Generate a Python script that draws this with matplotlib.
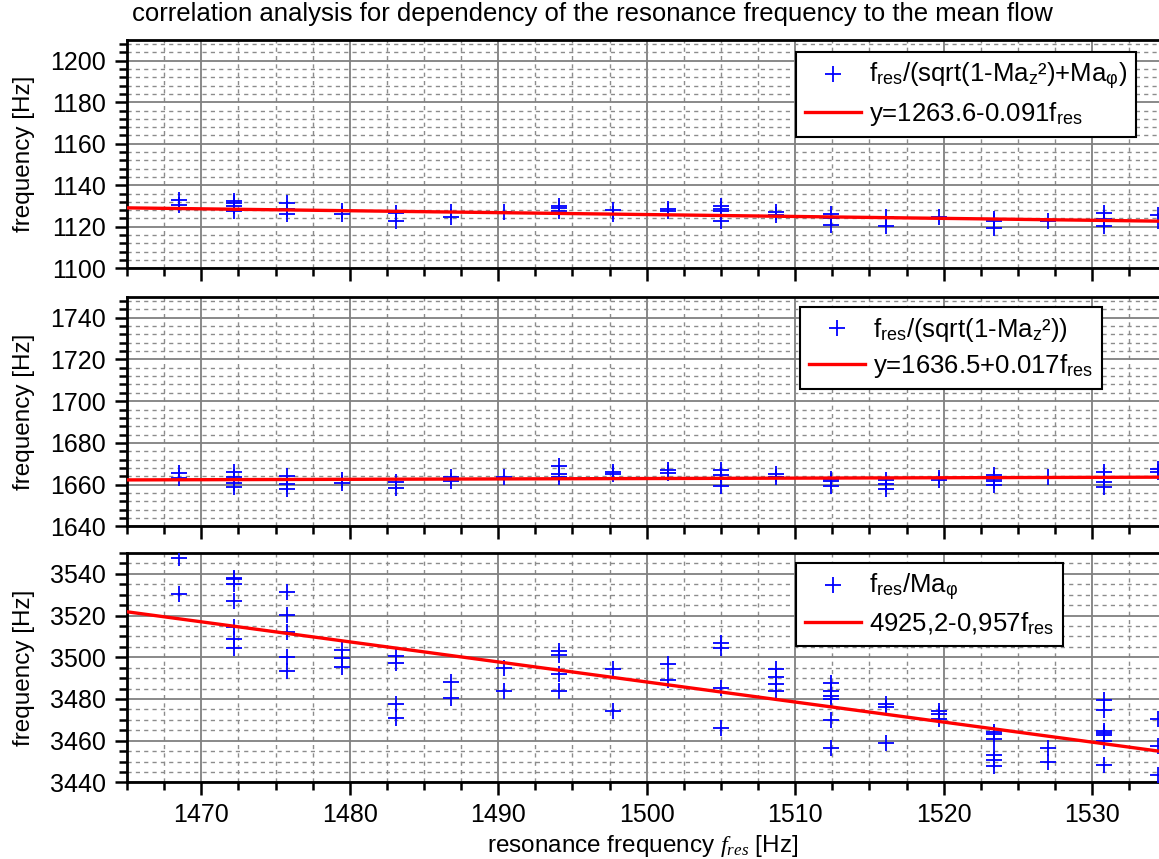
import matplotlib
matplotlib.use('Agg')
import matplotlib.pyplot as plt
from matplotlib.ticker import MultipleLocator

plt.rcParams['font.family'] = ['Liberation Sans', 'DejaVu Sans']
plt.rcParams['mathtext.fontset'] = 'custom'
plt.rcParams['mathtext.rm'] = 'Liberation Sans'
plt.rcParams['mathtext.it'] = 'Liberation Serif:italic'
plt.rcParams['mathtext.bf'] = 'Liberation Sans:bold'

# resonance frequency columns (Hz)
f_res = [1468.5, 1472.2, 1475.8, 1479.5, 1483.1, 1486.8, 1490.4, 1494.1, 1497.7,
         1501.4, 1505.0, 1508.7, 1512.4, 1516.1, 1519.7, 1523.4, 1527.0, 1530.8, 1534.4]

# f_res/(sqrt(1-Ma_z^2)+Ma_phi)
top_vals = [
    [1133.1, 1130.6],
    [1132.6, 1131.4, 1129.8, 1127.4],
    [1131.5, 1128.6, 1126.1],
    [1127.4, 1126.2],
    [1126.6, 1122.7],
    [1127.0, 1124.6],
    [1127.0],
    [1130.2, 1129.0, 1127.8],
    [1128.2, 1126.2],
    [1128.6, 1127.4],
    [1129.8, 1128.5, 1127.6, 1122.6],
    [1127.0, 1125.8],
    [1126.2, 1124.3, 1121.0],
    [1124.6, 1120.6],
    [1124.6],
    [1123.8, 1122.6, 1119.4],
    [1123.0],
    [1126.6, 1123.8, 1122.6, 1120.6],
    [1125.8, 1123.0],
]

# f_res/(sqrt(1-Ma_z^2))
mid_vals = [
    [1665.6, 1663.3],
    [1666.1, 1663.7, 1660.8, 1658.9],
    [1664.1, 1660.5, 1657.8],
    [1662.1, 1660.8],
    [1661.3, 1658.6],
    [1663.7, 1661.8],
    [1663.7],
    [1668.8, 1665.3, 1663.7],
    [1666.1, 1665.0],
    [1666.9, 1665.6],
    [1666.9, 1664.8, 1659.2],
    [1665.3, 1663.7],
    [1662.9, 1661.6, 1659.2],
    [1662.1, 1660.5, 1657.8],
    [1663.3, 1662.3],
    [1664.5, 1662.9, 1661.6, 1659.7],
    [1663.7],
    [1666.1, 1663.7, 1661.3, 1658.9],
    [1667.7, 1666.1],
]

# f_res/Ma_phi
bot_vals = [
    [3547.8, 3530.2],
    [3538.2, 3537.4, 3535.0, 3527.0, 3514.6, 3508.6, 3504.3],
    [3531.5, 3520.3, 3512.2, 3500.2, 3493.4],
    [3503.4, 3499.8, 3495.5],
    [3500.6, 3497.4, 3477.4, 3471.0],
    [3488.3, 3480.3],
    [3495.0, 3483.8],
    [3503.0, 3501.1, 3491.8, 3483.8],
    [3494.6, 3474.2],
    [3497.0, 3489.0],
    [3506.6, 3504.6, 3485.4, 3465.9],
    [3494.2, 3490.6, 3487.0, 3483.8],
    [3487.8, 3483.8, 3481.4, 3479.8, 3469.8, 3456.3],
    [3477.4, 3476.2, 3459.0],
    [3474.2, 3472.6, 3470.2],
    [3464.3, 3463.4, 3460.6, 3453.4, 3450.6, 3447.8],
    [3456.3, 3449.9],
    [3479.4, 3474.7, 3464.6, 3463.5, 3462.7, 3459.8, 3448.3],
    [3470.2, 3457.4, 3443.8],
]

# linear fits, read at the ends of the x range
fit_x = [1465.0, 1534.5]
top_fit = [1129.1, 1122.7]
mid_fit = [1662.3, 1663.6]
bot_fit = [3521.8, 3455.0]

top_labels = [r'f$_{\mathregular{res}}$/(sqrt(1-Ma$_{\mathregular{z}}$²)+Ma$_{\mathregular{φ}}$)',
              r'y=1263.6-0.091f$_{\mathregular{res}}$']
mid_labels = [r'f$_{\mathregular{res}}$/(sqrt(1-Ma$_{\mathregular{z}}$²))',
              r'y=1636.5+0.017f$_{\mathregular{res}}$']
bot_labels = [r'f$_{\mathregular{res}}$/Ma$_{\mathregular{φ}}$',
              r'4925,2-0,957f$_{\mathregular{res}}$']

ylims = [(1100, 1210), (1640, 1750), (3440, 3550)]
yminor = [4, 4, 5]


def flatten(cols, vals):
    xs, ys = [], []
    for x, col in zip(cols, vals):
        for v in col:
            xs.append(x)
            ys.append(v)
    return xs, ys


fig = plt.figure(figsize=(11.59, 8.59), dpi=100)
rects = [[0.1096, 0.6877, 0.8904, 0.2658],
         [0.1096, 0.3871, 0.8904, 0.2675],
         [0.1096, 0.0891, 0.8904, 0.2672]]
legend_pos = [(0.648, 0.947), (0.652, 0.956), (0.648, 0.956)]

panels = [(top_vals, top_fit, top_labels),
          (mid_vals, mid_fit, mid_labels),
          (bot_vals, bot_fit, bot_labels)]

for i, (vals, fit, labels) in enumerate(panels):
    ax = fig.add_axes(rects[i])
    xs, ys = flatten(f_res, vals)
    ax.plot(xs, ys, ls='none', marker='+', color='#0000ff', ms=11, mew=1.3,
            label=labels[0], zorder=3)
    ax.plot(fit_x, fit, color='#ff0000', lw=2.4, label=labels[1], zorder=4)

    ax.set_xlim(1465, 1534.5)
    ax.set_ylim(*ylims[i])
    ax.xaxis.set_major_locator(MultipleLocator(10))
    ax.xaxis.set_minor_locator(MultipleLocator(2.5))
    ax.yaxis.set_major_locator(MultipleLocator(20))
    ax.yaxis.set_minor_locator(MultipleLocator(yminor[i]))

    ax.set_axisbelow(True)
    ax.grid(which='major', color='#808080', lw=1.3, ls='-')
    ax.grid(which='minor', color='#8c8c8c', lw=1.0, ls=(0, (3, 3)))

    ax.spines['right'].set_visible(False)
    for s in ['left', 'bottom', 'top']:
        ax.spines[s].set_linewidth(2)
    ax.tick_params(which='major', direction='out', length=9, width=1.8,
                   labelsize=18, pad=6, top=False, right=False)
    ax.tick_params(which='minor', direction='out', length=5.5, width=1.8,
                   top=False, right=False)
    if i < 2:
        ax.tick_params(labelbottom=False)

    ax.set_ylabel('frequency [Hz]', fontsize=17.5)
    ax.yaxis.set_label_coords(-0.089, 0.5)

    leg = ax.legend(loc='upper left', bbox_to_anchor=legend_pos[i], fontsize=18.5,
                    numpoints=1, handlelength=2.2, handletextpad=0.3,
                    labelspacing=0.3, borderpad=0.35, borderaxespad=0,
                    fancybox=False, framealpha=1, edgecolor='black')
    leg.get_frame().set_linewidth(1.5)

    if i == 2:
        ax.set_xlabel(r'resonance frequency $\mathit{f}_{\mathit{res}}$ [Hz]',
                      fontsize=17.5, labelpad=4)

fig.text(0.114, 0.984, 'correlation analysis for dependency of the resonance '
         'frequency to the mean flow', fontsize=18.5, ha='left', va='center')

fig.savefig('out.png', dpi=100)
